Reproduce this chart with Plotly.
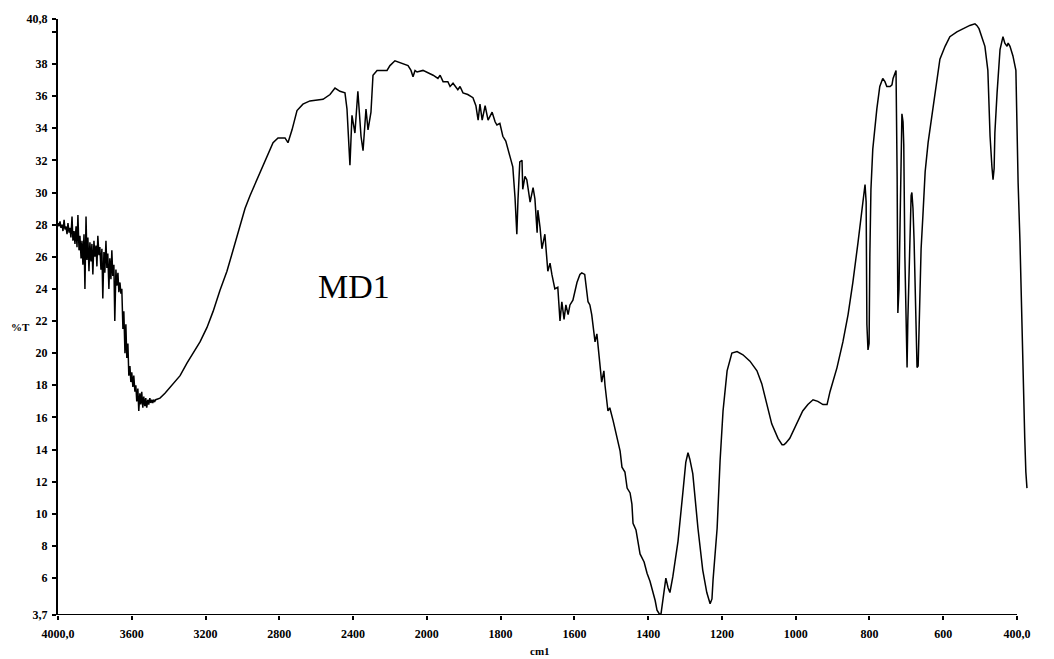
import numpy as np
import plotly.graph_objects as go

# ---- data: IR spectrum MD1 (wavenumber cm-1, %T) ----
wn_oh = [4000, 3995, 3989, 3984, 3978, 3973, 3967, 3962, 3957, 3951, 3946, 3940, 3935, 3930,
         3924, 3919, 3913, 3908, 3902, 3897, 3892, 3886, 3881, 3875, 3870, 3865, 3859, 3854,
         3848, 3843, 3838, 3832, 3827, 3821, 3816, 3811, 3805, 3800, 3794, 3789, 3784, 3778,
         3773, 3767, 3762, 3757, 3751, 3746, 3740, 3735, 3730, 3724, 3719, 3713, 3708, 3703,
         3697, 3692, 3686, 3681, 3675, 3670, 3664, 3659, 3654, 3648, 3643, 3637, 3632, 3627,
         3621, 3616, 3610, 3605, 3600, 3594, 3589, 3583, 3578, 3573, 3567, 3562, 3556, 3551,
         3546, 3540, 3535, 3529, 3524, 3519, 3513, 3508, 3502, 3497, 3491, 3486, 3481, 3475, 3470]
t_oh = [28.1, 27.9, 28.2, 27.8, 28.0, 27.6, 28.3, 27.7, 27.9, 27.4, 28.1, 27.5, 27.8, 27.2,
        28.5, 27.0, 27.6, 26.8, 27.9, 26.6, 28.6, 26.4, 27.3, 25.9, 27.0, 25.5, 27.4, 24.0,
        28.5, 25.8, 27.2, 25.1, 26.9, 25.7, 26.8, 24.9, 27.0, 26.0, 26.7, 25.4, 27.3, 26.1,
        26.6, 25.2, 26.5, 23.4, 26.3, 25.0, 27.0, 25.3, 26.2, 24.0, 25.9, 24.6, 26.4, 24.8,
        25.5, 22.0, 25.2, 24.2, 25.0, 23.8, 24.4, 23.7, 24.0, 21.5, 22.6, 20.0, 21.8, 19.7,
        20.6, 18.6, 19.2, 18.2, 18.8, 17.9, 18.6, 17.6, 18.0, 17.0, 17.8, 16.4, 17.5, 16.8,
        17.6, 16.6, 17.3, 16.7, 17.2, 16.6, 17.1, 16.8, 17.2, 16.9, 17.1, 16.9, 17.1, 17.0, 17.1]

wn_mid = [3447, 3420, 3376, 3338, 3300, 3257, 3230, 3192, 3159, 3122, 3084, 3051, 3013, 2986,
          2959, 2921, 2894, 2867, 2834, 2807, 2769, 2753, 2731, 2704, 2672, 2634, 2563, 2525,
          2498, 2471, 2444, 2433, 2422, 2417, 2406, 2390, 2374, 2357, 2346, 2330, 2319, 2303,
          2292, 2270, 2216, 2200, 2173, 2146, 2102, 2086, 2075, 2064, 2053, 2021]
t_mid = [17.2, 17.5, 18.1, 18.6, 19.4, 20.2, 20.7, 21.6, 22.6, 23.9, 25.1, 26.4, 28.0, 29.0,
         29.8, 30.8, 31.6, 32.3, 33.1, 33.4, 33.4, 33.1, 33.9, 35.1, 35.5, 35.7, 35.8, 36.1,
         36.5, 36.3, 36.2, 35.2, 33.0, 31.7, 34.8, 33.7, 36.3, 33.5, 32.6, 35.2, 33.9, 35.0,
         37.3, 37.6, 37.6, 37.9, 38.2, 38.1, 37.9, 37.6, 37.2, 37.6, 37.5, 37.6]

wn_fp = [1983, 1970, 1964, 1956, 1943, 1937, 1929, 1916, 1910, 1902, 1889, 1875, 1867, 1861,
         1856, 1850, 1842, 1834, 1823, 1815, 1810, 1802, 1794, 1786, 1780, 1775, 1767, 1761,
         1756, 1753, 1748, 1742, 1740, 1734, 1729, 1720, 1712, 1707, 1701, 1699, 1693, 1688,
         1680, 1672, 1666, 1661, 1653, 1645, 1639, 1634, 1628, 1623, 1617, 1612, 1604, 1593,
         1585, 1580, 1572, 1563, 1558, 1553, 1544, 1539, 1536, 1531, 1526, 1520, 1517, 1509,
         1504, 1495, 1490, 1484, 1476, 1471, 1463, 1457, 1449, 1444, 1441, 1433, 1422, 1411,
         1403, 1395, 1390, 1381, 1376, 1368, 1365, 1360, 1352, 1346, 1341, 1333, 1319, 1306,
         1298, 1292, 1287, 1279, 1265, 1252, 1241, 1232, 1227, 1224, 1213, 1205, 1197, 1186,
         1178, 1173, 1159, 1143, 1124, 1105, 1092, 1078, 1065, 1048, 1037, 1032, 1027, 1016,
         997, 981, 967, 953, 940, 926, 915, 907, 888, 872, 858, 845, 831, 820, 815, 812, 809,
         807, 804, 801, 799, 796, 791, 785, 780, 772, 764, 758, 753, 744, 739, 736, 728, 725,
         723, 720, 717, 712, 709, 707, 704, 701, 698, 696, 693, 690, 687, 685, 682, 679, 676,
         674, 671, 668, 666, 663, 660, 655, 649, 641, 630, 617, 609, 595, 582, 563, 547, 528,
         514, 509, 503, 495, 487, 479, 476, 473, 468, 465, 462, 460, 454, 446, 438, 433, 427,
         424, 419, 411, 403, 400, 397, 392, 389, 384, 379, 376, 373]
t_fp = [37.3, 37.1, 37.3, 36.9, 36.9, 36.6, 36.8, 36.4, 36.6, 36.2, 36.1, 35.9, 35.4, 34.5,
        35.5, 34.5, 35.4, 34.5, 35.0, 34.4, 34.2, 34.3, 33.5, 33.2, 32.7, 32.2, 31.6, 29.7,
        27.4, 29.5, 31.9, 32.0, 30.2, 31.0, 30.8, 29.4, 30.3, 29.6, 27.5, 28.9, 27.8, 26.5,
        27.4, 25.1, 25.6, 24.9, 24.0, 24.1, 22.0, 23.2, 22.1, 23.0, 22.4, 23.0, 23.3, 24.4,
        24.9, 25.0, 24.9, 23.2, 23.0, 22.4, 20.7, 21.2, 20.4, 19.6, 18.2, 18.9, 18.0, 16.4,
        16.6, 15.8, 15.3, 14.5, 13.9, 12.9, 12.6, 11.6, 11.3, 10.6, 9.4, 9.0, 7.5, 7.0,
        6.3, 5.8, 5.4, 4.6, 4.0, 3.7, 3.8, 4.6, 6.0, 5.4, 5.1, 6.1, 8.3, 11.3,
        13.2, 13.8, 13.4, 12.5, 9.1, 6.5, 5.1, 4.4, 4.7, 5.9, 9.1, 13.3, 16.4, 18.9,
        19.7, 20.0, 20.1, 19.9, 19.5, 18.9, 18.1, 16.8, 15.6, 14.7, 14.3, 14.3, 14.4, 14.7,
        15.6, 16.4, 16.8, 17.1, 17.0, 16.8, 16.8, 17.6, 19.1, 20.7, 22.4, 24.4, 26.9, 29.0, 29.8, 30.5, 29.4,
        21.8, 20.2, 20.6, 26.0, 30.2, 32.7, 34.2, 35.2, 36.6, 37.1, 36.9, 36.6, 36.6, 36.7, 37.1, 37.6, 31.0,
        22.5, 24.0, 29.0, 34.9, 34.4, 33.0, 26.0, 21.0, 19.1, 22.0, 25.0, 28.2, 29.8, 30.0, 29.0, 27.0, 24.4,
        21.5, 19.1, 19.2, 21.5, 24.4, 26.5, 28.6, 31.3, 33.1, 34.9, 36.8, 38.3, 39.1, 39.7, 40.0, 40.2, 40.4,
        40.5, 40.4, 40.2, 39.7, 39.1, 37.6, 35.5, 33.5, 31.6, 30.8, 31.5, 33.7, 36.2, 38.9, 39.7, 39.3, 39.1,
        39.3, 39.1, 38.5, 37.6, 32.5, 30.6, 27.0, 23.7, 19.2, 14.7, 12.6, 11.6]

x_ticks = [4000, 3600, 3200, 2800, 2400, 2000, 1800, 1600, 1400, 1200, 1000, 800, 600, 400]
x_tick_labels = ["4000,0", "3600", "3200", "2800", "2400", "2000", "1800", "1600",
                 "1400", "1200", "1000", "800", "600", "400,0"]
y_ticks = [3.7, 6, 8, 10, 12, 14, 16, 18, 20, 22, 24, 26, 28, 30, 32, 34, 36, 38, 40, 40.8]
y_tick_labels = ["3,7", "6", "8", "10", "12", "14", "16", "18", "20", "22", "24", "26", "28",
                 "30", "32", "34", "36", "38", "", "40,8"]


def to_axis(w):
    """Instrument scale: 4000-2000 cm-1 compressed 2x relative to 2000-400 cm-1."""
    w = np.asarray(w, dtype=float)
    return np.where(w >= 2000, (4000 - w) / 400.0, 5 + (2000 - w) / 200.0)


wn = np.concatenate([wn_oh, wn_mid, wn_fp])
tr = np.concatenate([t_oh, t_mid, t_fp])

W, H = 1054, 659
ml, mr, mt, mb = 58, 22, 16, 44
pw = W - ml - mr
ph = H - mt - mb
unit_px = (1017 - 58) / 13.0
x_max = pw / unit_px

tick_font = dict(family="Liberation Serif", size=12, color="black")

fig = go.Figure()
fig.add_trace(go.Scatter(x=to_axis(wn), y=tr, mode="lines",
                         line=dict(color="black", width=1.5), hoverinfo="skip",
                         showlegend=False))

fig.update_layout(
    width=W, height=H,
    margin=dict(l=ml, r=mr, t=mt, b=mb, pad=0),
    paper_bgcolor="white", plot_bgcolor="white",
    showlegend=False,
    xaxis=dict(range=[0, x_max], showgrid=False, zeroline=False, showline=False,
               tickmode="array", tickvals=to_axis(x_ticks).tolist(),
               ticktext=["<b>%s</b>" % t for t in x_tick_labels],
               ticks="outside", ticklen=4, tickwidth=1.5, tickcolor="black",
               tickfont=tick_font, ticklabelstandoff=4),
    yaxis=dict(range=[3.7, 40.8], showgrid=False, zeroline=False, showline=True,
               linecolor="black", linewidth=2, mirror=False,
               tickmode="array", tickvals=y_ticks,
               ticktext=["<b>%s</b>" % t if t else "" for t in y_tick_labels],
               ticks="outside", ticklen=4, tickwidth=1.5, tickcolor="black",
               tickfont=tick_font, ticklabelstandoff=2),
)

# bottom axis line ending at 400 cm-1
fig.add_shape(type="line", xref="x", yref="y",
              x0=float(to_axis(4000)), x1=float(to_axis(400)), y0=3.7, y1=3.7,
              line=dict(color="black", width=2), layer="above")

fig.add_annotation(text="MD1", xref="paper", yref="paper",
                   x=(354 - ml) / pw, y=(H - mb - 285) / ph, showarrow=False,
                   xanchor="center", yanchor="middle",
                   font=dict(family="Liberation Serif", size=34, color="black"))
fig.add_annotation(text="<b>%T</b>", xref="paper", yref="paper",
                   x=(20 - ml) / pw, y=(H - mb - 326) / ph, showarrow=False,
                   xanchor="center", yanchor="middle",
                   font=dict(family="Liberation Serif", size=11, color="black"))
fig.add_annotation(text="<b>cm1</b>", xref="paper", yref="paper",
                   x=(540 - ml) / pw, y=(H - mb - 651) / ph, showarrow=False,
                   xanchor="center", yanchor="middle",
                   font=dict(family="Liberation Serif", size=11, color="black"))

fig.write_html("out.html")
